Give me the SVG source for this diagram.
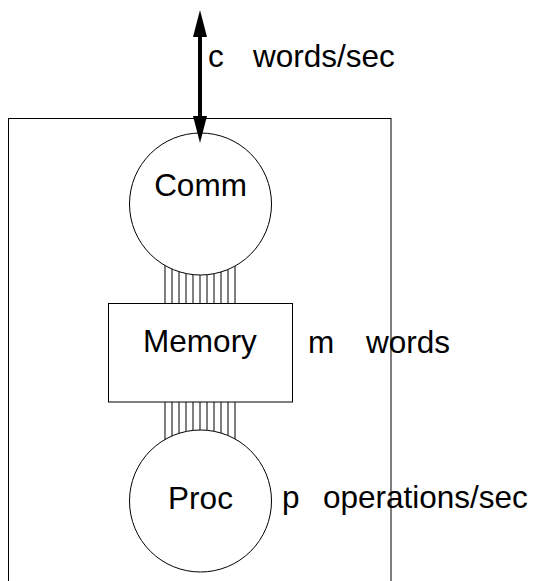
<svg xmlns="http://www.w3.org/2000/svg" width="533" height="581" viewBox="0 0 533 581">
<style>
  .edge { fill: none; stroke: #000; stroke-width: 1; }
  .node { fill: #fff; stroke: #000; stroke-width: 1; }
  .hatch { stroke: #000; stroke-width: 1; }
  .lbl { font-family: "Liberation Sans", Arial, Helvetica, sans-serif; font-size: 31.5px; fill: #000; }
  .mid { text-anchor: middle; }
</style>
<defs>
  <marker id="head" markerUnits="userSpaceOnUse" markerWidth="27" markerHeight="14" viewBox="0 0 27 14" refX="7" refY="7" orient="auto-start-reverse">
    <path d="M0,0 L27,7 L0,14 z" fill="#000"/>
  </marker>
</defs>
<rect id="boundary" class="edge" x="8.5" y="118.5" width="382.5" height="480"/>
<g id="connectors">
  <g id="bus-comm-memory" class="hatch">
    <line x1="165" y1="255" x2="165" y2="303"/>
    <line x1="172" y1="255" x2="172" y2="303"/>
    <line x1="179" y1="255" x2="179" y2="303"/>
    <line x1="186" y1="255" x2="186" y2="303"/>
    <line x1="193" y1="255" x2="193" y2="303"/>
    <line x1="200" y1="255" x2="200" y2="303"/>
    <line x1="207" y1="255" x2="207" y2="303"/>
    <line x1="214" y1="255" x2="214" y2="303"/>
    <line x1="221" y1="255" x2="221" y2="303"/>
    <line x1="228" y1="255" x2="228" y2="303"/>
    <line x1="235" y1="255" x2="235" y2="303"/>
  </g>
  <g id="bus-memory-proc" class="hatch">
    <line x1="165" y1="402" x2="165" y2="450"/>
    <line x1="172" y1="402" x2="172" y2="450"/>
    <line x1="179" y1="402" x2="179" y2="450"/>
    <line x1="186" y1="402" x2="186" y2="450"/>
    <line x1="193" y1="402" x2="193" y2="450"/>
    <line x1="200" y1="402" x2="200" y2="450"/>
    <line x1="207" y1="402" x2="207" y2="450"/>
    <line x1="214" y1="402" x2="214" y2="450"/>
    <line x1="221" y1="402" x2="221" y2="450"/>
    <line x1="228" y1="402" x2="228" y2="450"/>
    <line x1="235" y1="402" x2="235" y2="450"/>
  </g>
</g>
<g id="comm">
  <circle class="node" cx="200.5" cy="204" r="71"/>
  <text class="lbl mid" x="200.5" y="196">Comm</text>
</g>
<g id="memory">
  <rect class="node" x="108.5" y="303.5" width="184" height="98.5"/>
  <text class="lbl mid" x="200" y="352">Memory</text>
</g>
<g id="proc">
  <circle class="node" cx="200.5" cy="501" r="71"/>
  <text class="lbl mid" x="200.5" y="509">Proc</text>
</g>
<g id="io-arrow">
  <line x1="200" y1="30" x2="200" y2="123" stroke="#000" stroke-width="4" marker-start="url(#head)" marker-end="url(#head)"/>
</g>
<g id="annotations">
  <text class="lbl" x="208" y="67">c</text>
  <text class="lbl" x="253" y="67">words/sec</text>
  <text class="lbl" x="308" y="353">m</text>
  <text class="lbl" x="366" y="353">words</text>
  <text class="lbl" x="282" y="508">p</text>
  <text class="lbl" x="323" y="508">operations/sec</text>
</g>
</svg>
